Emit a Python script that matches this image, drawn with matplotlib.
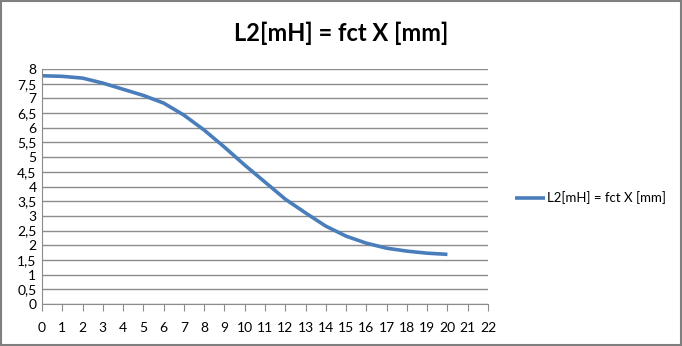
import numpy as np
import matplotlib.pyplot as plt
from matplotlib.patches import Rectangle

# data
x_mm = [0, 1, 2, 3, 4, 5, 6, 7, 8, 9, 10, 11, 12, 13, 14, 15, 16, 17, 18, 19, 20]
l2_mh = [7.77, 7.75, 7.69, 7.52, 7.31, 7.10, 6.84, 6.43, 5.92, 5.34, 4.73,
         4.15, 3.57, 3.10, 2.65, 2.31, 2.07, 1.90, 1.80, 1.73, 1.69]
label = "L2[mH] = fct X [mm]"

line_color = "#4a7ebb"
grid_color = "#8c8c8c"

plt.rcParams['font.family'] = ['Lato', 'DejaVu Sans']


def main():
    fig = plt.figure(figsize=(6.82, 3.46), dpi=100)
    ax = fig.add_axes([42/682, 1 - 304/346, (488-42)/682, (304-69)/346])

    ax.plot(x_mm, l2_mh, color=line_color, lw=2.6, label=label, solid_capstyle="butt")

    ax.set_xlim(0, 22)
    ax.set_ylim(0, 8)
    ax.set_xticks(np.arange(0, 23, 1))
    ax.set_yticks(np.arange(0, 8.5, 0.5))
    ax.set_yticklabels([f"{v:g}".replace(".", ",") for v in np.arange(0, 8.5, 0.5)])
    ax.yaxis.grid(True, color=grid_color, lw=1)
    ax.set_axisbelow(True)
    for side in ["top", "right"]:
        ax.spines[side].set_visible(False)
    for side in ["left", "bottom"]:
        ax.spines[side].set_color(grid_color)
    ax.tick_params(axis="x", direction="out", length=5, color=grid_color, labelsize=10, pad=8)
    ax.tick_params(axis="y", length=0, labelsize=10, pad=4)

    fig.text(0.5, 0.905, label, ha="center", va="center", fontsize=17, fontweight="bold")

    fig.legend(loc="center left", bbox_to_anchor=(503/682, 1 - 198/346), frameon=False,
               fontsize=9.5, handlelength=2.3, handletextpad=0.1)

    # chart area border
    fig.patches.append(Rectangle((0.002, 0.003), 0.996, 0.994, transform=fig.transFigure,
                                 fill=False, edgecolor="#7f7f7f", lw=1.5))

    fig.savefig("out.png", dpi=100)


if __name__ == "__main__":
    main()
